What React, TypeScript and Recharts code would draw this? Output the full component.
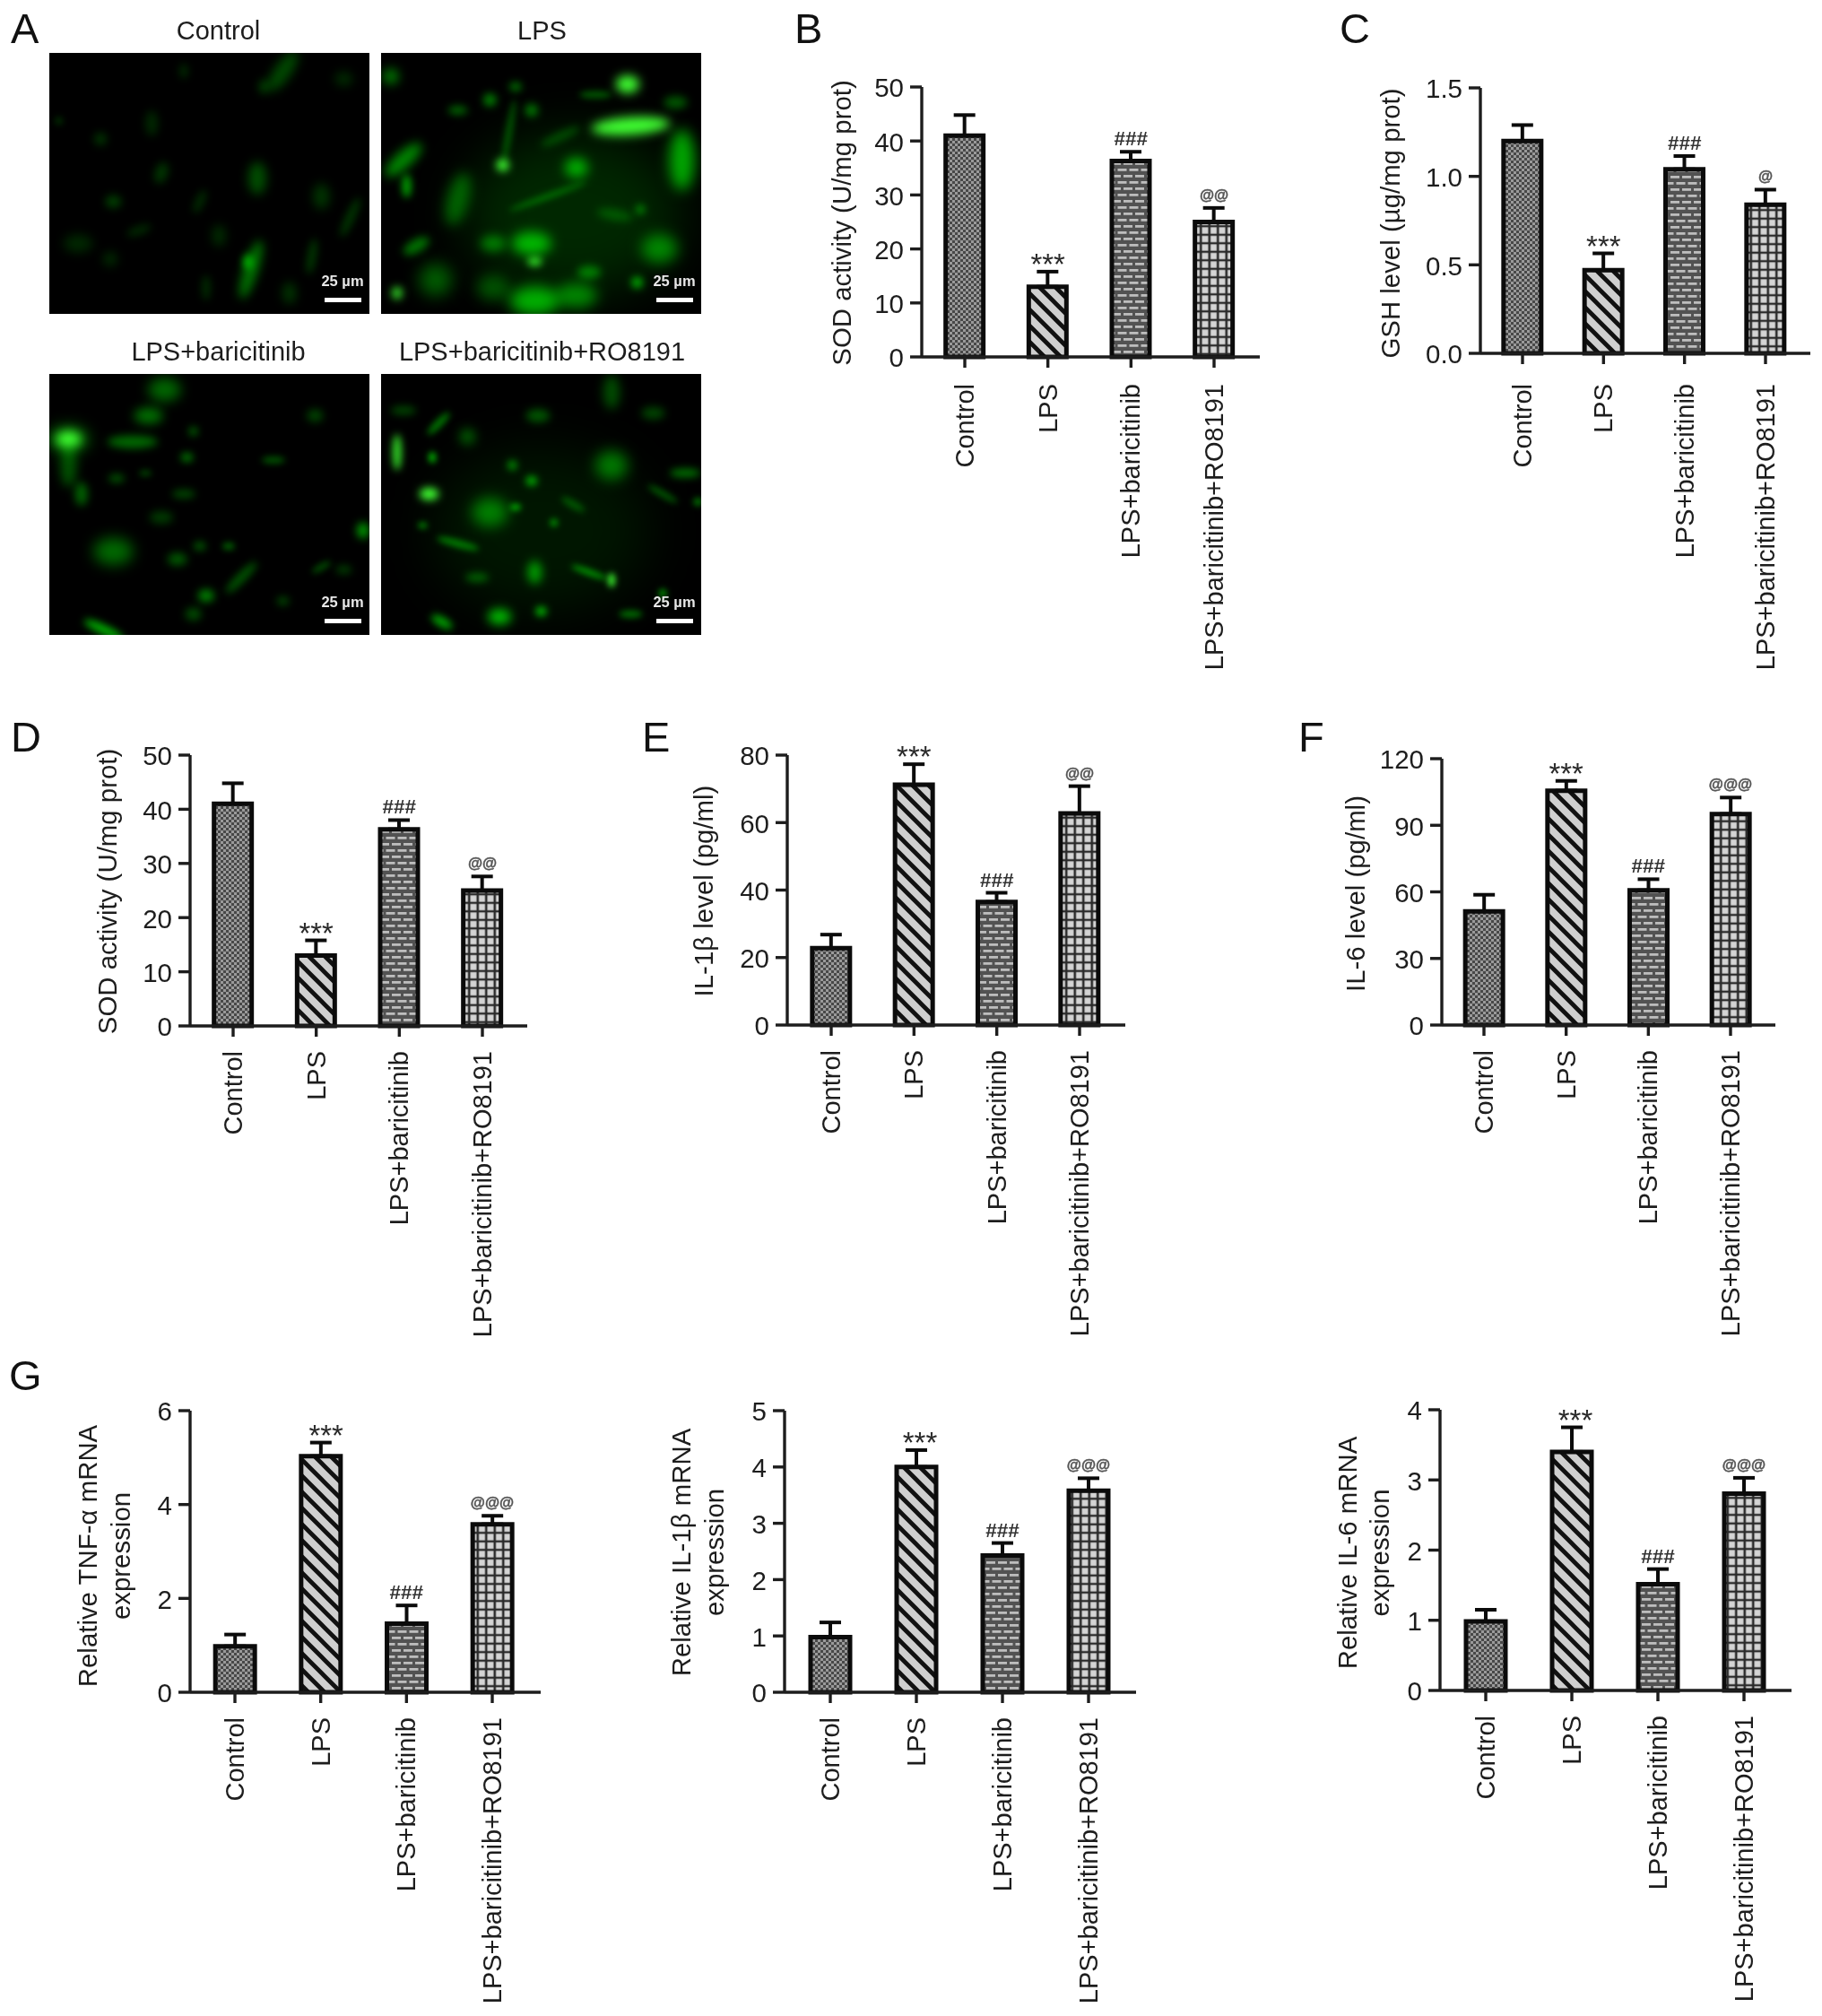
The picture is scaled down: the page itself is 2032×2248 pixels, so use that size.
import React from "react";
import { ComposedChart, Bar, Cell, ErrorBar, Line, XAxis, YAxis, ScatterChart, Scatter } from "recharts";

const FONT = "'Liberation Sans', Arial, sans-serif";
const INK = "#1d1d1d";

const groups = ["Control", "LPS", "LPS+baricitinib", "LPS+baricitinib+RO8191"];

const sodValues = [41.0, 13.0, 36.3, 25.0];
const sodTops = [44.8, 15.8, 38.0, 27.6];
const sodMarks = ["", "***", "###", "@@"];
const sodTicks = [0, 10, 20, 30, 40, 50];

const gshValues = [1.2, 0.47, 1.04, 0.84];
const gshTops = [1.29, 0.565, 1.115, 0.925];
const gshMarks = ["", "***", "###", "@"];
const gshTicks = [0, 0.5, 1.0, 1.5];

const il1Values = [22.8, 71.2, 36.5, 62.7];
const il1Tops = [26.8, 77.3, 39.2, 70.8];
const il1Marks = ["", "***", "###", "@@"];
const il1Ticks = [0, 20, 40, 60, 80];

const il6Values = [51.2, 105.6, 60.7, 95.1];
const il6Tops = [58.7, 110, 65.7, 102.5];
const il6Marks = ["", "***", "###", "@@@"];
const il6Ticks = [0, 30, 60, 90, 120];

const tnfMrnaValues = [0.98, 5.03, 1.46, 3.58];
const tnfMrnaTops = [1.23, 5.32, 1.85, 3.76];
const tnfMrnaTicks = [0, 2, 4, 6];

const il1MrnaValues = [0.98, 4.0, 2.43, 3.58];
const il1MrnaTops = [1.24, 4.3, 2.65, 3.8];
const il1MrnaTicks = [0, 1, 2, 3, 4, 5];

const il6MrnaValues = [0.985, 3.4, 1.515, 2.805];
const il6MrnaTops = [1.15, 3.75, 1.73, 3.03];
const il6MrnaTicks = [0, 1, 2, 3, 4];

const mrnaMarks = ["", "***", "###", "@@@"];

// micrograph cells: [x %, y %, length, width, tilt, glow]
const controlCells = [
  [63, 83, 8, 34, 18, 0.4], [62, 80, 5, 8, 0, 0.6], [73, 7, 9, 26, 35, 0.24], [65, 48, 10, 18, 0, 0.26],
  [35, 46, 7, 12, 20, 0.16], [20, 57, 9, 7, 0, 0.2], [16, 33, 7, 7, 0, 0.15], [32, 27, 7, 14, 0, 0.1],
  [28, 68, 14, 5, -20, 0.1], [9, 73, 16, 10, 0, 0.1], [19, 79, 8, 8, 0, 0.11], [53, 70, 8, 12, 0, 0.11],
  [85, 55, 9, 14, 0, 0.16], [94, 63, 5, 24, 25, 0.16], [82, 78, 5, 20, 10, 0.16], [47, 57, 5, 14, 25, 0.11],
  [3, 26, 4, 4, 0, 0.16], [42, 7, 5, 8, 0, 0.1], [67, 13, 6, 8, 0, 0.16], [49, 90, 5, 14, 0, 0.11],
  [92, 10, 10, 8, 0, 0.11], [75, 92, 8, 12, 0, 0.14],
];
const lpsCells = [
  [60, 62, 120, 90, 0, 0.1], [77, 12, 13, 10, 0, 1], [78, 28, 44, 10, -4, 1], [94, 41, 14, 34, 0, 0.62],
  [38, 43, 7, 7, 0, 1], [61, 44, 13, 11, 0, 0.62], [7, 41, 26, 9, -42, 0.5], [47, 73, 22, 13, 0, 0.65],
  [87, 75, 20, 16, 0, 0.45], [48, 80, 8, 5, 0, 0.85], [48, 95, 28, 16, 0, 0.65], [5, 92, 6, 7, 0, 0.85],
  [80, 88, 6, 6, 0, 0.75], [24, 56, 12, 30, 15, 0.32], [34, 18, 7, 7, 0, 0.5], [47, 22, 7, 7, 0, 0.45],
  [3, 9, 9, 9, 0, 0.42], [8, 51, 5, 13, 0, 0.62], [35, 73, 14, 9, 0, 0.4], [11, 74, 16, 7, -30, 0.42],
  [65, 84, 13, 7, 0, 0.4], [81, 60, 5, 5, 0, 0.45], [52, 55, 46, 3, -20, 0.32], [42, 13, 7, 5, 0, 0.4],
  [24, 22, 11, 5, 0, 0.34], [67, 16, 18, 4, 0, 0.3], [17, 87, 18, 18, 0, 0.32], [61, 93, 23, 14, 0, 0.45],
  [92, 19, 13, 7, 0, 0.3], [35, 90, 18, 14, 0, 0.25], [40, 30, 4, 36, 10, 0.25], [73, 62, 20, 6, 10, 0.2], [56, 32, 24, 5, -25, 0.2],
];
const baricitinibCells = [
  [6, 25, 14, 9, 0, 1], [6, 25, 24, 16, 0, 0.28], [36, 6, 18, 13, 0, 0.36], [31, 16, 16, 9, 0, 0.4], [26, 26, 28, 7, 0, 0.38],
  [43, 32, 7, 5, 0, 0.42], [45, 22, 5, 5, 0, 0.36], [70, 33, 13, 4, 0, 0.28], [6, 35, 9, 24, 0, 0.28],
  [20, 68, 22, 15, 0, 0.38], [49, 85, 9, 7, 0, 0.48], [98, 60, 7, 9, 0, 0.55], [60, 78, 24, 5, -45, 0.3],
  [17, 98, 24, 5, 25, 0.7], [40, 71, 11, 7, 0, 0.3], [56, 66, 7, 4, 0, 0.34], [47, 66, 7, 5, 0, 0.3],
  [85, 74, 12, 3, -30, 0.3], [42, 46, 13, 5, 0, 0.22], [21, 40, 9, 5, 0, 0.26], [83, 16, 9, 7, 0, 0.22],
  [45, 92, 9, 7, 0, 0.26], [73, 87, 7, 5, 0, 0.22], [10, 46, 7, 13, 0, 0.34], [30, 38, 7, 3, 0, 0.26],
  [35, 55, 13, 7, 0, 0.18], [92, 75, 9, 5, 0, 0.18],
];
const ro8191Cells = [
  [50, 60, 120, 90, 0, 0.03], [15, 46, 11, 7, 0, 1], [5, 30, 5, 20, 0, 0.85], [34, 53, 20, 16, 0, 0.42], [72, 35, 18, 16, 0, 0.42],
  [47, 41, 6, 5, 0, 0.75], [42, 51, 6, 3, 0, 0.8], [16, 32, 4, 6, 0, 0.75], [41, 35, 5, 5, 0, 0.6],
  [72, 79, 4, 8, 0, 0.95], [48, 76, 8, 13, 0, 0.55], [37, 93, 13, 9, 0, 0.7], [50, 91, 6, 5, 0, 0.8],
  [19, 95, 13, 5, 30, 0.65], [65, 76, 21, 3, 20, 0.6], [88, 84, 4, 4, 0, 0.7], [18, 19, 17, 4, -45, 0.45],
  [49, 16, 13, 7, 0, 0.3], [54, 57, 4, 4, 0, 0.6], [95, 38, 17, 5, 0, 0.4], [27, 24, 9, 9, 0, 0.3],
  [24, 65, 24, 4, 15, 0.45], [88, 46, 19, 3, 30, 0.35], [13, 58, 5, 3, 0, 0.6], [99, 49, 5, 4, 0, 0.5],
  [7, 14, 14, 5, 0, 0.22], [72, 7, 9, 19, 0, 0.26], [78, 92, 13, 4, 0, 0.4], [60, 50, 15, 4, 30, 0.26],
  [30, 78, 13, 5, 0, 0.3], [85, 15, 13, 7, 0, 0.22],
];

function Patterns({ id }: { id: string }) {
  return (
    <defs>
      <pattern id={id + "-0"} patternUnits="userSpaceOnUse" width={6} height={6}>
        <rect width={6} height={6} fill="#484848" />
        <rect x={0} y={0} width={3} height={3} fill="#9a9a9a" />
        <rect x={3} y={3} width={3} height={3} fill="#9a9a9a" />
      </pattern>
      <pattern id={id + "-1"} patternUnits="userSpaceOnUse" width={18} height={18}>
        <rect width={18} height={18} fill="#cfcfcf" />
        <path d="M-4,-4 L22,22 M-4,14 L4,22 M14,-4 L22,4" stroke="#111" strokeWidth={4.8} />
      </pattern>
      <pattern id={id + "-2"} patternUnits="userSpaceOnUse" width={13} height={14}>
        <rect width={13} height={14} fill="#525252" />
        <rect x={1} y={2} width={10} height={2.8} fill="#bdbdbd" />
        <rect x={-5.5} y={9} width={10} height={2.8} fill="#bdbdbd" />
        <rect x={7.5} y={9} width={10} height={2.8} fill="#bdbdbd" />
      </pattern>
      <pattern id={id + "-3"} patternUnits="userSpaceOnUse" width={9.5} height={9.5}>
        <rect width={9.5} height={9.5} fill="#d4d4d4" />
        <path d="M4.75,0 V9.5 M0,4.75 H9.5" stroke="#2a2a2a" strokeWidth={2.6} />
      </pattern>
    </defs>
  );
}

const markStyle: Record<string, { size: number; lift: number; fill: string }> = {
  "*": { size: 33, lift: -3, fill: "#2a2a2a" },
  "#": { size: 22.5, lift: 7, fill: "#333" },
  "@": { size: 16.5, lift: 9, fill: "#555" },
};

type PanelProps = {
  id: string; axisX: number; right: number; top: number; bottom: number; first: number; last: number;
  barW: number; values: number[]; tops: number[]; marks: string[]; ticks: number[];
  titles: { text: string; dist: number }[]; titleShift: number; decimals?: number; labelGap?: number; starDx?: number;
};

function GroupTick(props: any) {
  const { x, y, payload, gap } = props;
  return (
    <text x={x + 10} y={y + gap} transform={`rotate(-90 ${x + 10} ${y + gap})`} textAnchor="end" fontSize={29} fontFamily={FONT} fill={INK}>
      {payload.value}
    </text>
  );
}

function Panel(p: PanelProps) {
  const YW = 140, TOPM = 30, XH = 370;
  const plotH = p.bottom - p.top;
  const step = (p.last - p.first) / 3;
  const padL = p.first - p.axisX - step / 2;
  const padR = p.right - p.last - step / 2;
  const data = groups.map((name, i) => ({
    name, value: p.values[i], err: [0, p.tops[i] - p.values[i]], top: p.tops[i], mark: p.marks[i],
  }));
  const axisStyle = { stroke: INK, strokeWidth: 3.4 };
  const renderMark = (l: any) => {
    const mark = data[l.index]?.mark;
    if (!mark) return <g key={l.index} />;
    const s = markStyle[mark[0]];
    return (
      <text key={l.index} x={l.x + (mark[0] === "*" ? p.starDx || 0 : 0)} y={l.y - s.lift} textAnchor="middle" fontSize={s.size} fontFamily={FONT} fontWeight={mark[0] === "*" ? 400 : 700} fill={s.fill} stroke={mark[0] === "@" ? s.fill : "none"} strokeWidth={0.5}>
        {mark}
      </text>
    );
  };
  return (
    <div style={{ position: "absolute", left: p.axisX - YW, top: p.top - TOPM }}>
      <ComposedChart
        width={p.right - p.axisX + YW}
        height={plotH + TOPM + XH}
        data={data}
        margin={{ top: TOPM, right: 0, bottom: 0, left: 0 }}
        barCategoryGap={0}
      >
        <Patterns id={p.id} />
        <XAxis
          dataKey="name"
          interval={0}
          height={XH}
          padding={{ left: padL, right: padR }}
          axisLine={axisStyle}
          tickLine={axisStyle}
          tickSize={12}
          tick={<GroupTick gap={(p.labelGap ?? 26) - 12} />}
        />
        <YAxis
          type="number"
          width={YW}
          domain={[0, p.ticks[p.ticks.length - 1]]}
          ticks={p.ticks}
          interval={0}
          axisLine={axisStyle}
          tickLine={axisStyle}
          tickSize={13}
          tickMargin={7}
          tickFormatter={(v: number) => (p.decimals ? v.toFixed(p.decimals) : String(v))}
          tick={{ fontSize: 29.5, fontFamily: FONT, fill: INK, dy: 1 }}
        />
        <Bar dataKey="value" barSize={p.barW - 5} stroke="#0b0b0b" strokeWidth={5} isAnimationActive={false}>
          {data.map((_, i) => (
            <Cell key={i} fill={`url(#${p.id}-${i})`} />
          ))}
          <ErrorBar dataKey="err" direction="y" width={12} stroke="#0b0b0b" strokeWidth={4} isAnimationActive={false} />
        </Bar>
        <Line dataKey="top" stroke="none" dot={false} activeDot={false} isAnimationActive={false} label={renderMark} />
        {p.titles.map((t) => {
          const tx = YW - t.dist;
          const ty = TOPM + plotH / 2 + p.titleShift;
          return (
            <text key={t.text} x={tx} y={ty} transform={`rotate(-90 ${tx} ${ty})`} textAnchor="middle" dominantBaseline="central" fontSize={29.4} fontFamily={FONT} fill={INK}>
              {t.text}
            </text>
          );
        })}
      </ComposedChart>
    </div>
  );
}

function CellShape(props: any) {
  const { cx, cy, payload } = props;
  const g = payload.glow;
  const hot = g > 0.8 ? g - 0.3 : 0;
  const fill = `rgb(${Math.round(90 * hot)},${Math.round(15 + 240 * g)},${Math.round(70 * hot)})`;
  const blur = Math.min(30, 2.5 + Math.min(payload.rx, payload.ry) * 0.35);
  return (
    <ellipse cx={cx} cy={cy} rx={payload.rx} ry={payload.ry} fill={fill} transform={`rotate(${payload.tilt} ${cx} ${cy})`} style={{ filter: `blur(${blur}px)`, mixBlendMode: "screen" }} />
  );
}

function Micrograph({ left, top, title, cells, titleDx }: { left: number; top: number; title: string; cells: number[][]; titleDx: number }) {
  const W = 357, H = 291;
  const data = cells.map(([x, y, rx, ry, tilt, glow]) => ({ x, y, rx, ry, tilt, glow }));
  return (
    <>
      <div style={{ position: "absolute", left: left + titleDx, width: W, top: top - 42, textAlign: "center", fontSize: 29, lineHeight: "34px", fontFamily: FONT, color: INK }}>
        {title}
      </div>
      <div style={{ position: "absolute", left, top, width: W, height: H, background: "#000", overflow: "hidden" }}>
        <ScatterChart width={W} height={H} margin={{ top: 0, right: 0, bottom: 0, left: 0 }}>
          <XAxis type="number" dataKey="x" domain={[0, 100]} hide />
          <YAxis type="number" dataKey="y" domain={[0, 100]} reversed hide />
          <Scatter data={data} shape={<CellShape />} isAnimationActive={false} />
        </ScatterChart>
        <div style={{ position: "absolute", right: -4, width: 68, top: H - 46, textAlign: "center", color: "#e8e8e8", fontSize: 16.5, fontWeight: 700, fontFamily: FONT }}>
          25 µm
        </div>
        <div style={{ position: "absolute", right: 9, width: 41, top: H - 18, height: 5, background: "#fff" }} />
      </div>
    </>
  );
}

function Letter({ x, y, t }: { x: number; y: number; t: string }) {
  return (
    <div style={{ position: "absolute", left: x, top: y, fontSize: 47, lineHeight: "47px", fontFamily: FONT, color: "#111" }}>{t}</div>
  );
}

export default function App() {
  return (
    <div style={{ position: "absolute", left: 0, top: 0, width: 2032, height: 2248, background: "#fff", filter: "blur(0.55px)", overflow: "hidden" }}>
      <Letter x={12} y={8} t="A" />
      <Letter x={886} y={8} t="B" />
      <Letter x={1494} y={8} t="C" />
      <Letter x={12} y={798} t="D" />
      <Letter x={716} y={798} t="E" />
      <Letter x={1448} y={798} t="F" />
      <Letter x={10} y={1510} t="G" />

      <Micrograph left={55} top={59} title="Control" cells={controlCells} titleDx={10} />
      <Micrograph left={425} top={59} title="LPS" cells={lpsCells} titleDx={1} />
      <Micrograph left={55} top={417} title="LPS+baricitinib" cells={baricitinibCells} titleDx={10} />
      <Micrograph left={425} top={417} title="LPS+baricitinib+RO8191" cells={ro8191Cells} titleDx={1} />

      <Panel id="b" axisX={1028} right={1405} top={97} bottom={398} first={1076} last={1354} barW={47} values={sodValues} tops={sodTops} marks={sodMarks} ticks={sodTicks} labelGap={28} titles={[{ text: "SOD activity (U/mg prot)", dist: 90 }]} titleShift={1} />
      <Panel id="c" axisX={1651} right={2019} top={98} bottom={394} first={1698} last={1969} barW={47} values={gshValues} tops={gshTops} marks={gshMarks} ticks={gshTicks} decimals={1} labelGap={32} titles={[{ text: "GSH level (µg/mg prot)", dist: 101 }]} titleShift={3} />
      <Panel id="d" axisX={212} right={588} top={842} bottom={1144} first={260} last={538} barW={47} values={sodValues} tops={sodTops} marks={sodMarks} ticks={sodTicks} titles={[{ text: "SOD activity (U/mg prot)", dist: 93 }]} titleShift={1} />
      <Panel id="e" axisX={878} right={1255} top={842} bottom={1143} first={927} last={1204} barW={47} values={il1Values} tops={il1Tops} marks={il1Marks} ticks={il1Ticks} titles={[{ text: "IL-1β level (pg/ml)", dist: 94 }]} titleShift={1} />
      <Panel id="f" axisX={1608} right={1980} top={846} bottom={1143} first={1655} last={1930} barW={47} values={il6Values} tops={il6Tops} marks={il6Marks} ticks={il6Ticks} titles={[{ text: "IL-6 level (pg/ml)", dist: 97 }]} titleShift={2} />
      <Panel id="g1" axisX={212} right={603} top={1573} bottom={1887} first={262} last={549} barW={49} values={tnfMrnaValues} tops={tnfMrnaTops} marks={mrnaMarks} ticks={tnfMrnaTicks} starDx={6} titles={[{ text: "Relative TNF-α mRNA", dist: 115 }, { text: "expression", dist: 78 }]} titleShift={5} />
      <Panel id="g2" axisX={875} right={1267} top={1573} bottom={1887} first={926} last={1214} barW={49} values={il1MrnaValues} tops={il1MrnaTops} marks={mrnaMarks} ticks={il1MrnaTicks} starDx={4} titles={[{ text: "Relative IL-1β mRNA", dist: 116 }, { text: "expression", dist: 79 }]} titleShift={1} />
      <Panel id="g3" axisX={1606} right={1998} top={1572} bottom={1885} first={1657} last={1945} barW={49} values={il6MrnaValues} tops={il6MrnaTops} marks={mrnaMarks} ticks={il6MrnaTicks} starDx={4} titles={[{ text: "Relative IL-6 mRNA", dist: 104 }, { text: "expression", dist: 68 }]} titleShift={3} />
    </div>
  );
}
